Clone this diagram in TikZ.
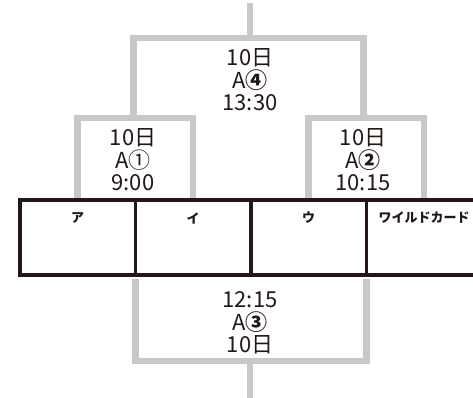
\documentclass[tikz,border=0pt]{standalone}
\usepackage{fontspec}
\setmainfont{Noto Sans CJK JP}
\usetikzlibrary{positioning}

\definecolor{linegray}{RGB}{200,200,200}
\definecolor{boxblack}{RGB}{35,24,21}

\begin{document}
\begin{tikzpicture}[x=1pt,y=-1pt,
  bracket/.style={draw=linegray,line width=6.5pt},
  cell/.style={draw=boxblack,line width=3.5pt,minimum width=115.5pt,
    minimum height=75pt,inner sep=0pt,outer sep=0pt},
  celltext/.style={font=\bfseries\fontsize{13}{15}\selectfont,inner sep=0pt,text=boxblack},
  matchtext/.style={align=center,font=\fontsize{22}{22.5}\selectfont,inner sep=0pt,text=boxblack}]

\useasboundingbox (0,0) rectangle (473,398);

% Zellen
\node[cell] (a) at (77.5,237.5) {};
\node[cell,right=0pt of a] (b) {};
\node[cell,right=0pt of b] (c) {};
\node[cell,right=0pt of c] (d) {};

% Knoten der Spiele
\coordinate (m1) at (133.5,118);
\coordinate (m2) at (363.5,118);
\coordinate (m4) at (250,38);
\coordinate (m3) at (250,361);
\coordinate (top) at (250,3);
\coordinate (bot) at (250,398);

% Linien oben
\draw[bracket] (a.north) |- (m1) -| (b.north);
\draw[bracket] (c.north) |- (m2) -| (d.north);
\draw[bracket] (m1) |- (m4) -| (m2);
\draw[bracket] (m4) -- (top);

% Linien unten
\draw[bracket] ([yshift=-4pt]b.south west) |- (m3) -| ([yshift=-4pt]c.south east);
\draw[bracket] (m3) -- (bot);

% Zellen nochmal drueber
\node[cell] at (a) {};
\node[cell] at (b) {};
\node[cell] at (c) {};
\node[cell] at (d) {};

% Beschriftung Zellen
\node[celltext] (ta) at ([yshift=-18pt]a.north) {ア};
\node[celltext] (tb) at ([yshift=-18pt]b.north) {イ};
\node[celltext] (tc) at ([yshift=-18pt]c.north) {ウ};
\node[celltext] (td) at ([yshift=-18pt]d.north) {ワイルドカード};

% Spiele
\node[matchtext] (s4) at (250,80) {10日\\A{\bfseries ④}\\13:30};
\node[matchtext] (s1) at (133,160) {10日\\A①\\9:00};
\node[matchtext] (s2) at (363,160) {10日\\A{\bfseries ②}\\10:15};
\node[matchtext] (s3) at (250,323) {12:15\\A{\bfseries ③}\\10日};

\end{tikzpicture}
\end{document}
